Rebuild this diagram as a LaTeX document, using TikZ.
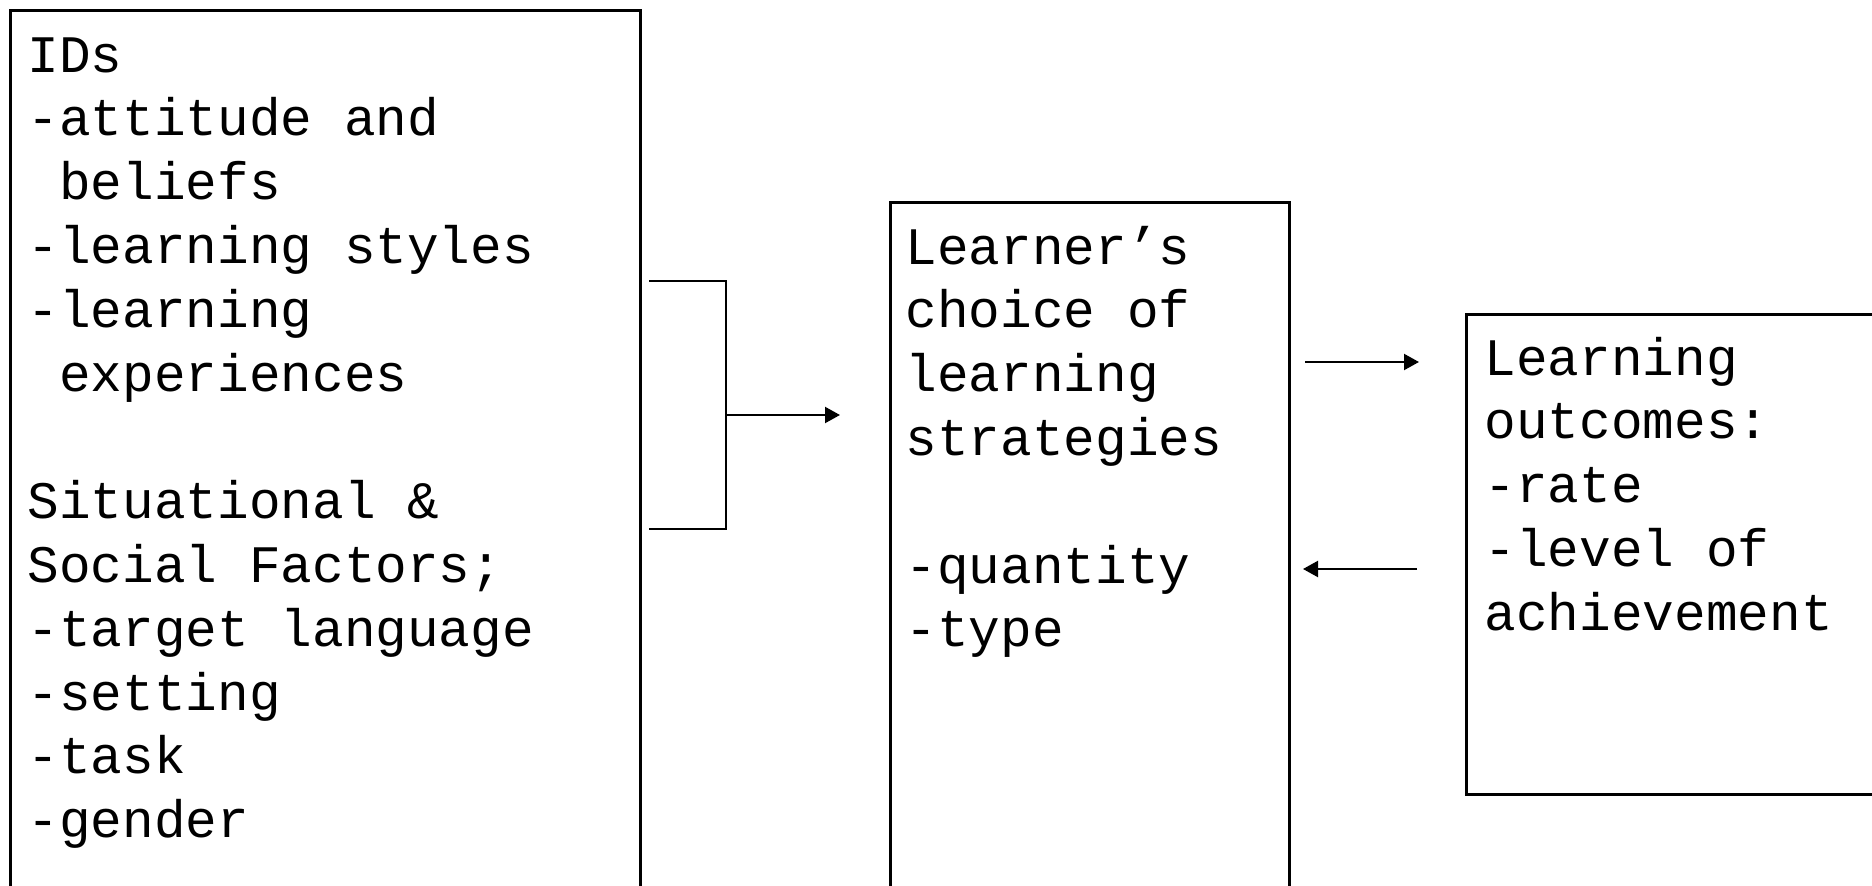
\documentclass[tikz,border=0pt]{standalone}
\usepackage{fontspec}
\setmonofont{Liberation Mono}
\usetikzlibrary{arrows.meta,positioning}

\tikzset{
  frame/.style={draw,line width=0.75pt,inner sep=0pt,anchor=north west},
  % anchored at the baseline of the last line
  words/.style={font=\ttfamily\fontsize{15}{18.15}\selectfont,align=left,inner sep=0pt,anchor=base west},
  link/.style={line width=0.6pt},
  pointer/.style={line width=0.6pt,-{Triangle[length=1.5mm,width=1.6mm]}}
}

\begin{document}
\begin{tikzpicture}
\useasboundingbox (0,0) rectangle (18.72,-8.86);
\clip (0,0) rectangle (18.72,-8.86);

% boxes (cut off by the page edge)
\node[frame,minimum width=6.3cm,minimum height=9.6cm] (ids) at (0.09,-0.09) {};
\node[frame,minimum width=3.99cm,minimum height=7.6cm] (strat) at (8.89,-2.01) {};
\node[frame,minimum width=4.9cm,minimum height=4.8cm] (outcome) at (14.65,-3.13) {};

% texts
\node[words] (idsText) at (0.27,-8.376) {IDs\\-attitude and\\ \ beliefs\\-learning styles\\-learning\\ \ experiences\\ \\Situational \&\\Social Factors;\\-target language\\-setting\\-task\\-gender};
\node[words] (stratText) at (9.05,-6.468) {Learner’s\\choice of\\learning\\strategies\\ \\-quantity\\-type};
\node[words] (outcomeText) at (14.84,-6.302) {Learning\\outcomes:\\-rate\\-level of\\achievement};

% bracket and arrows
\coordinate (brTop) at (6.49,-2.81);
\coordinate (brBot) at (6.49,-5.29);
\coordinate (brJoin) at (7.26,-4.15);
\coordinate (brTip) at (8.40,-4.15);
\coordinate (fwdStart) at (13.05,-3.62);
\coordinate (fwdTip) at (14.19,-3.62);
\coordinate (backStart) at (14.17,-5.69);
\coordinate (backTip) at (13.03,-5.69);

\draw[link] (brTop) -| (brJoin) |- (brBot);
\draw[pointer] (brJoin) -- (brTip);
\draw[pointer] (fwdStart) -- (fwdTip);
\draw[pointer] (backStart) -- (backTip);
\end{tikzpicture}
\end{document}
